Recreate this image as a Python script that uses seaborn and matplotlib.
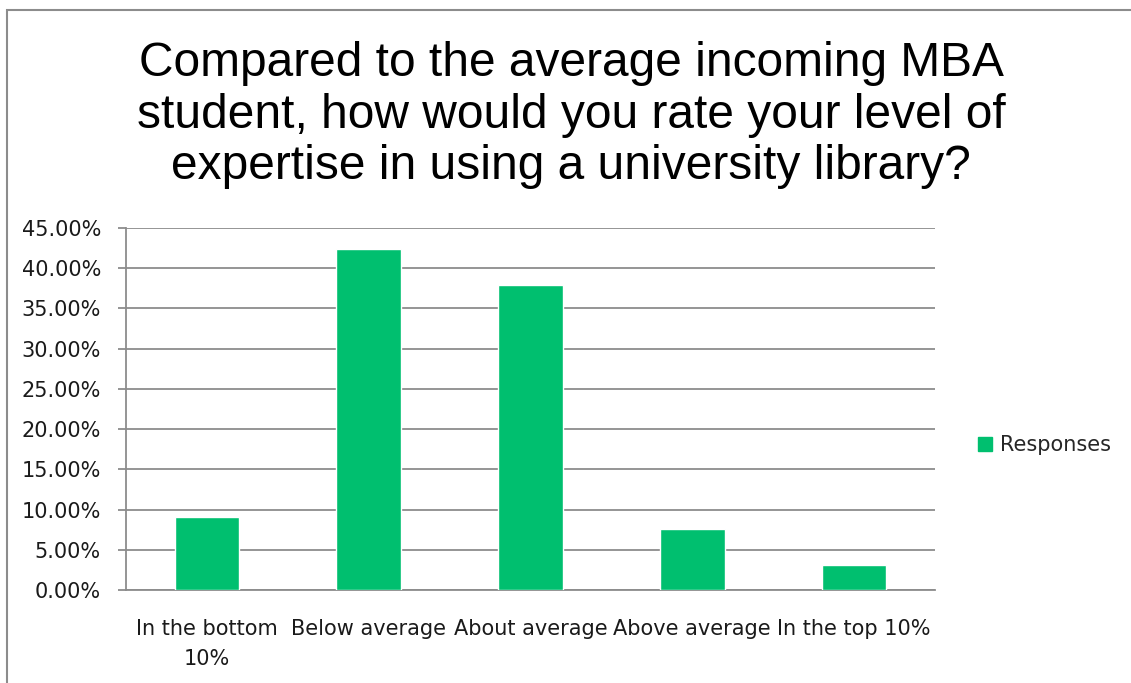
import numpy as np
import pandas as pd
import matplotlib
matplotlib.use("Agg")
import matplotlib.pyplot as plt
import seaborn as sns
from matplotlib.ticker import PercentFormatter, MultipleLocator
from matplotlib.patches import Rectangle
from matplotlib.lines import Line2D

categories = ["In the bottom\n10%", "Below average", "About average", "Above average", "In the top 10%"]
responses = [9.1, 42.4, 37.9, 7.6, 3.1]
series_name = "Responses"
title = "Compared to the average incoming MBA\nstudent, how would you rate your level of\nexpertise in using a university library?"

sns.set_theme(style="white")
plt.rcParams['font.family'] = ['DejaVu Sans']

BAR = "#00BF6F"
GRID = "#8c8c8c"

fig = plt.figure(figsize=(11.31, 6.83), dpi=100)
ax = fig.add_axes([126/1131, 1-590/683, (935-126)/1131, (590-228)/683])

df = pd.DataFrame({"cat": categories, "val": responses})
sns.barplot(data=df, x="cat", y="val", color=BAR, width=0.4, saturation=1, ax=ax, zorder=3)

ax.set_ylim(0, 45)
ax.set_xlim(-0.5, 4.5)
ax.yaxis.set_major_locator(MultipleLocator(5))
ax.yaxis.set_major_formatter(PercentFormatter(decimals=2))
ax.grid(axis="y", color=GRID, linewidth=1.3, zorder=0)
ax.set_axisbelow(True)
for s in ["top", "right"]:
    ax.spines[s].set_visible(False)
for s in ["left", "bottom"]:
    ax.spines[s].set_color(GRID)
    ax.spines[s].set_linewidth(1.3)
ax.set_xlabel("")
ax.set_ylabel("")
ax.set_xticks(np.arange(5))
ax.set_xticklabels(categories)
ax.set_xticks(np.arange(-0.5, 5, 1), minor=True)
ax.tick_params(axis="x", which="major", length=0, pad=21, labelsize=15, labelcolor="#1a1a1a")
ax.tick_params(axis="x", which="minor", length=7, width=1.3, color=GRID, direction="out")
ax.tick_params(axis="y", length=6, width=1.3, color=GRID, direction="out", pad=12,
               labelsize=15, labelcolor="#1a1a1a", left=True)
for lbl in ax.get_xticklabels():
    lbl.set_linespacing(1.6)

fig.text(0.505, 1-115/683, title, ha="center", va="center", fontsize=34.5,
         family=["Liberation Sans", "DejaVu Sans"], color="black", linespacing=1.18)

handle = Line2D([], [], marker="s", linestyle="none", markersize=10, markerfacecolor=BAR, markeredgecolor=BAR)
fig.legend([handle], [series_name], loc="center left", bbox_to_anchor=(958/1131, 1-445/683),
           frameon=False, fontsize=15, handletextpad=0.3, handlelength=0.8)

fig.patches.append(Rectangle((7/1131, -0.05), 1.2, 1.05 - 10/683, transform=fig.transFigure,
                             fill=False, edgecolor="#8c8c8c", linewidth=1.5))

fig.savefig("out.png", dpi=100)
